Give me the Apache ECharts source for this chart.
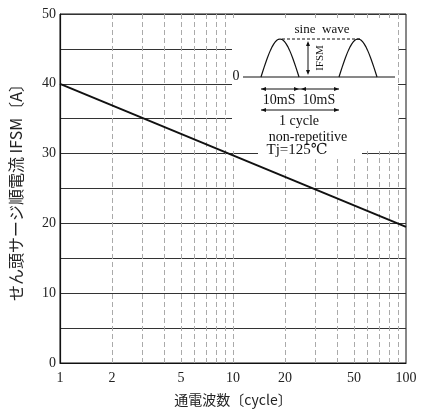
<!DOCTYPE html>
<html>
<head>
<meta charset="utf-8">
<script src="https://cdn.jsdelivr.net/npm/echarts@6/dist/echarts.min.js"></script>
<style>
  html, body { margin: 0; padding: 0; background: #fff; }
  #chart { width: 434px; height: 412px; }
</style>
</head>
<body>
<div id="chart"></div>
<script>
// ---- data ----
const cycles = [1, 100];
const surgeCurrent = [40, 19.5];
const minorCycles = [2, 3, 4, 5, 6, 7, 8, 9, 10, 20, 30, 40, 50, 60, 70, 80, 90];
const labeledMinor = [2, 5, 20, 50];
const yTicks = [0, 10, 20, 30, 40, 50];

const serif = '"Liberation Serif", "DejaVu Serif", serif';
const jp = '"Noto Sans CJK JP", sans-serif';

const chart = echarts.init(document.getElementById('chart'));

// inset drawing helpers (decoration, pixel coords)
function hump(x0, x1, base, h) {
  const pts = [];
  for (let i = 0; i <= 24; i++) {
    const t = i / 24;
    pts.push([x0 + (x1 - x0) * t, base - h * Math.sin(Math.PI * t)]);
  }
  return pts;
}
function arrowHead(x, y, dir) {
  const s = 5, w = 2;
  let pts;
  if (dir === 'r') pts = [[x, y], [x - s, y - w], [x - s, y + w]];
  if (dir === 'l') pts = [[x, y], [x + s, y - w], [x + s, y + w]];
  if (dir === 'u') pts = [[x, y], [x - w, y + s], [x + w, y + s]];
  if (dir === 'd') pts = [[x, y], [x - w, y - s], [x + w, y - s]];
  return { type: 'polygon', shape: { points: pts }, style: { fill: '#111' }, z: 20 };
}
const ln = (x1, y1, x2, y2, dash) => ({
  type: 'line', shape: { x1, y1, x2, y2 },
  style: { stroke: '#111', lineWidth: 1, lineDash: dash || null }, z: 20
});
const txt = (x, y, text, extra, rotation) => ({
  type: 'text', x, y, z: 20, rotation: rotation || 0,
  style: Object.assign({ text, font: '13px ' + serif, fill: '#111', align: 'center', verticalAlign: 'middle' }, extra || {})
});

const base = 77;
const inset = [
  { type: 'rect', shape: { x: 232, y: 18, width: 166, height: 133 }, style: { fill: '#fff' }, z: 10 },
  { type: 'rect', shape: { x: 258, y: 150, width: 104, height: 9 }, style: { fill: '#fff' }, z: 10 },
  txt(322, 30, 'sine  wave', { font: '13px ' + serif }),
  txt(236, 76, '0', { font: '14px ' + serif }),
  ln(243, base, 395, base),
  { type: 'polyline', shape: { points: hump(261, 299, base, 38) }, style: { stroke: '#111', lineWidth: 1.2, fill: null }, z: 20 },
  { type: 'polyline', shape: { points: hump(339, 377, base, 38) }, style: { stroke: '#111', lineWidth: 1.2, fill: null }, z: 20 },
  ln(282, 39, 360, 39, [3, 2]),
  ln(308, 43, 308, 72),
  arrowHead(308, 41, 'u'),
  arrowHead(308, 75, 'd'),
  txt(320, 58, 'IFSM', { font: '11px ' + serif }, Math.PI / 2),
  ln(261, 89, 339, 89),
  arrowHead(261, 89, 'l'), arrowHead(299, 89, 'r'),
  arrowHead(301, 89, 'l'), arrowHead(339, 89, 'r'),
  txt(299, 100, '10mS  10mS', { font: '14px ' + serif }),
  ln(261, 110, 339, 110),
  arrowHead(261, 110, 'l'), arrowHead(339, 110, 'r'),
  txt(299, 121, '1 cycle', { font: '14px ' + serif }),
  txt(308, 137, 'non-repetitive', { font: '14px ' + serif }),
  txt(297, 150, 'Tj=125℃', { font: '15px ' + serif })
];

const option = {
  animation: false,
  grid: { left: 53, right: 28, top: 14, bottom: 46, show: true, borderColor: '#111', borderWidth: 1 },
  xAxis: {
    type: 'log', logBase: 10, min: 1, max: 100,
    name: '通電波数〔cycle〕', nameLocation: 'middle', nameGap: 30,
    nameTextStyle: { fontFamily: jp, fontSize: 14, color: '#222' },
    axisLine: { lineStyle: { color: '#111', width: 1.2 } },
    axisTick: { show: false },
    splitLine: { show: false },
    axisLabel: { fontFamily: serif, fontSize: 14, color: '#222', margin: 8 }
  },
  yAxis: {
    type: 'value', min: 0, max: 50, interval: 5,
    name: 'せん頭サージ順電流 IFSM〔A〕', nameLocation: 'middle', nameGap: 36,
    nameTextStyle: { fontFamily: jp, fontSize: 16, color: '#222' },
    axisLine: { show: true, lineStyle: { color: '#111', width: 1.2 } },
    axisTick: { show: false },
    splitLine: { show: true, lineStyle: { color: '#333', width: 1 } },
    axisLabel: {
      fontFamily: serif, fontSize: 14, color: '#222', margin: 4,
      formatter: v => (yTicks.indexOf(v) >= 0 ? String(v) : '')
    }
  },
  series: [{
    type: 'line',
    data: cycles.map((c, i) => [c, surgeCurrent[i]]),
    symbol: 'none',
    lineStyle: { color: '#111', width: 2 },
    z: 5,
    markLine: {
      silent: true, symbol: 'none',
      lineStyle: { color: '#aaa', type: [5, 3], width: 1 },
      label: {
        position: 'start', distance: 8, fontFamily: serif, fontSize: 14, color: '#222',
        formatter: p => (labeledMinor.indexOf(p.value) >= 0 ? String(p.value) : '')
      },
      data: minorCycles.map(c => ({ xAxis: c }))
    }
  }],
  graphic: inset
};
chart.setOption(option);
</script>
</body>
</html>
